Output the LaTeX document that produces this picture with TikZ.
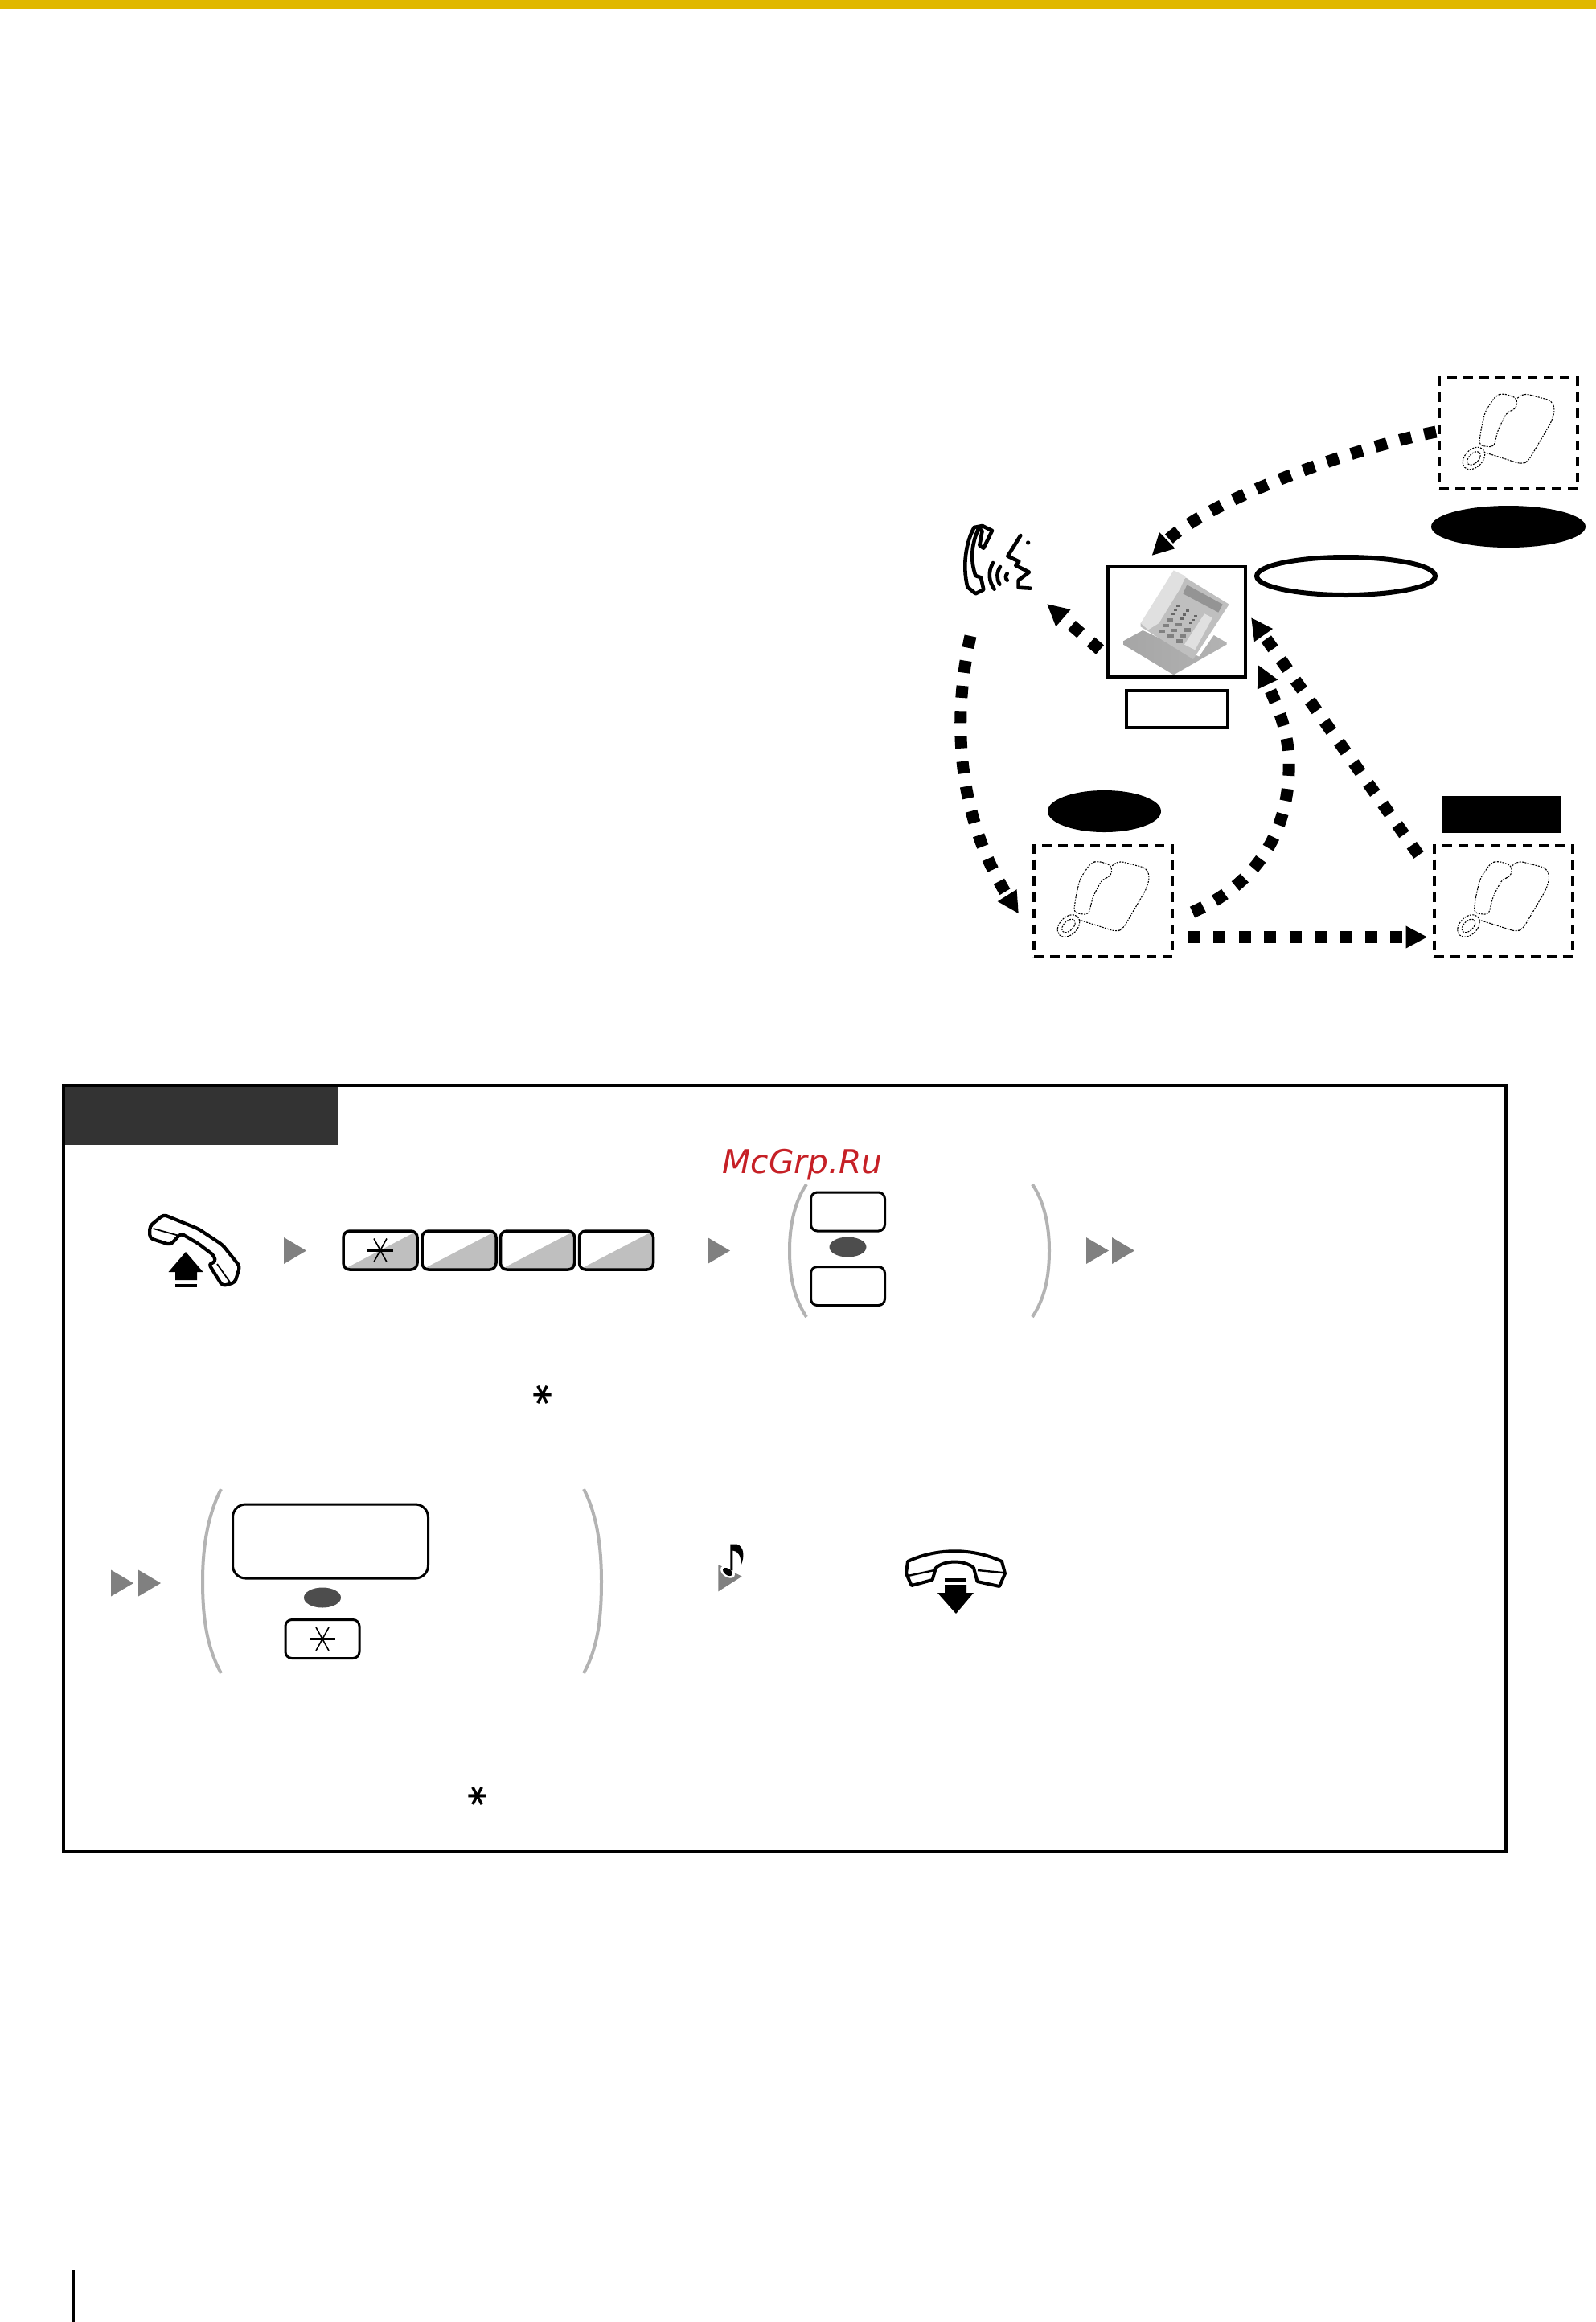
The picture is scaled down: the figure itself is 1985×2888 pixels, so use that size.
\documentclass[tikz,border=0pt]{standalone}
\usepackage{xcolor}
\usepackage{fontspec}
\usetikzlibrary{shapes.geometric,arrows.meta}
\newfontfamily\labelfont{DejaVu Sans}
\definecolor{barcolor}{HTML}{E0B800}
\definecolor{headcolor}{HTML}{333333}
\definecolor{markgrey}{HTML}{808080}
\definecolor{keygrey}{HTML}{BFBFBF}
\definecolor{dotgrey}{HTML}{4D4D4D}
\definecolor{parengrey}{HTML}{B3B3B3}
\definecolor{watermark}{HTML}{C62026}
\tikzset{
    dotarrow/.style={line width=7.5pt,dash pattern=on 7.5pt off 8.2pt,-{Triangle[length=13.5pt,width=13pt]}},
    phonebox/.style={draw,line width=2pt,dash pattern=on 6pt off 4pt,minimum width=86pt,minimum height=69pt,inner sep=0pt,outer sep=0pt},
    framebox/.style={draw,line width=2pt,inner sep=0pt,outer sep=0pt},
    blackoval/.style={ellipse,fill=black,inner sep=0pt,outer sep=0pt},
    digitkey/.style={draw,line width=1.75pt,rounded corners=4pt,minimum width=46pt,minimum height=24pt,inner sep=0pt,
        path picture={\fill[keygrey] (path picture bounding box.south west) -- (path picture bounding box.north east) -- (path picture bounding box.south east) -- cycle;}},
    plainkey/.style={draw,line width=1.5pt,rounded corners=4pt,minimum width=46pt,minimum height=24pt,inner sep=0pt},
    sepdot/.style={ellipse,fill=dotgrey,minimum width=23pt,minimum height=12.5pt,inner sep=0pt},
    paren/.style={parengrey,line width=2pt},
    startext/.style={font=\labelfont\bfseries\fontsize{24}{28}\selectfont,rotate=90,inner sep=0pt},
    playmark/.pic={\fill[markgrey] (-14,-16.5) -- (14,0) -- (-14,16.5) -- cycle;},
    keystar/.pic={
        \draw[line width=1.9pt] (-16,0) -- (16,0);
        \draw[line width=.8pt] (-8,-14.5) -- (8,14.5);
        \draw[line width=.8pt] (8,-14.5) -- (-8,14.5);
    },
    dotphone/.pic={
        \draw[line width=.55pt,dash pattern=on 1pt off .7pt,rounded corners=3pt]
            (-6.4,-49.8) -- (11.2,-43.8) -- (9.6,-29.9) -- (-1,-27.4) -- (-12.8,-5) -- (-18.1,17.4)
            -- (-36.7,14.9) -- (-34,-5) -- (-28.8,-27.4) -- (-15.4,-47.3) -- cycle;
        \draw[line width=.55pt,dash pattern=on 1pt off .7pt,rounded corners=3pt]
            (11.2,-43.8) -- (19.2,-49.8) -- (53.8,-40.8) -- (58,-29.9) -- (53.8,-14.9) -- (24.5,34.8)
            -- (16.5,38.3) -- (-28.8,23.9);
        \draw[line width=.55pt,dash pattern=on 1pt off .7pt,shift={(-43,31)},rotate=45] (0,0) ellipse (16 and 11);
        \draw[line width=.55pt,dash pattern=on 1pt off .7pt,shift={(-43,31)},rotate=45] (0,0) ellipse (10 and 6);
    },
}
\begin{document}
\begin{tikzpicture}[x=0.5pt,y=-0.5pt]
    \useasboundingbox (0,0) rectangle (1985,2888);
    \fill[barcolor] (0,0) rectangle (1985,11);
    \fill (89,2823) rectangle (93.3,2888);

    % upper diagram
    \node[phonebox] (phoneTR) at (1876,539) {};
    \node[phonebox] (phoneBL) at (1372,1120.5) {};
    \node[phonebox] (phoneBR) at (1869.5,1120.5) {};
    \pic at (phoneTR) {dotphone};
    \pic at (phoneBL) {dotphone};
    \pic at (phoneBR) {dotphone};
    \node[framebox,minimum width=85.5pt,minimum height=68.5pt] (deskset) at (1463.5,773.5) {};
    \node[framebox,minimum width=63pt,minimum height=23pt] (namebox) at (1464,882) {};
    \node[ellipse,draw,line width=3pt,inner sep=0pt,minimum width=111pt,minimum height=23.5pt] (ovalA) at (1674,716.5) {};
    \node[blackoval,minimum width=96pt,minimum height=26pt] (ovalB) at (1876,655) {};
    \node[blackoval,minimum width=70.5pt,minimum height=26pt] (ovalC) at (1373.5,1009) {};
    \node[fill=black,inner sep=0pt,minimum width=74pt,minimum height=23pt] (tagBR) at (1868,1013) {};
    \node[inner sep=0pt,outer sep=0pt,minimum width=41.5pt,minimum height=42.5pt] (voice) at (1240.5,695.5) {};

    % desk phone
    \begin{scope}[shift={(1378,700)},scale=0.3333]
        \shade[left color=black!35,middle color=white,right color=black!30] (57,292) -- (130,252) -- (340,350) -- (395,270) -- (443,298) -- (443,305) -- (245,418) -- (57,305) -- cycle;
        \fill[black!25] (122,225) -- (290,55) -- (452,155) -- (318,360) -- (122,238) -- cycle;
        \fill[black!12] (122,225) -- (245,28) -- (290,50) -- (270,95) -- (190,225) -- (150,250) -- cycle;
        \fill[black!42] (295,82) -- (428,155) -- (412,185) -- (280,115) -- cycle;
        \fill[black!12] (360,190) -- (390,205) -- (325,325) -- (285,305) -- cycle;
        \foreach \kx/\ky in {262/160,252/175,242/190,296/178,285/193,275/208,326/198,318/212,308/225}
            \fill[black!60] (\kx-6,\ky-3.5) rectangle (\kx+6,\ky+3.5);
        \foreach \kx/\ky in {232/212,216/233,202/255,263/231,247/252,235/274,296/250,280/271,266/292}
            \fill[black!50] (\kx-12,\ky-6.5) rectangle (\kx+12,\ky+6.5);
    \end{scope}

    % talking handset
    \begin{scope}[shift={(1180,640)},scale=0.3333,line width=2.3pt,line join=round,line cap=round]
        \draw (95,48) .. controls (65,100) and (50,190) .. (70,270) -- (100,295) -- (130,280) -- (120,235) -- (100,228) .. controls (80,170) and (85,110) .. (110,55) -- (125,42) -- (162,60) -- (130,125) -- (115,115) -- (125,60) -- (110,55);
        \draw (95,48) -- (125,42);
        \draw (165,180) .. controls (145,215) and (150,250) .. (170,278);
        \draw (192,195) .. controls (178,215) and (178,240) .. (190,260);
        \draw (218,220) .. controls (211,228) and (211,238) .. (218,245);
        \draw (268,78) -- (220,155) -- (262,175) -- (250,190) -- (300,215) -- (260,245) -- (260,272) -- (305,275);
        \fill (296,105) circle (8);
    \end{scope}

    \draw[dotarrow] ([shift={(-4,-2)}]phoneTR.west) .. controls (1670,560) and (1500,625) .. ([shift={(-31,-14)}]deskset.north);
    \draw[dotarrow] ([shift={(-10,0)}]deskset.202) -- ([shift={(20,13)}]voice.south east);
    \draw[dotarrow] ([shift={(8,53)}]voice.south west) .. controls (1183,900) and (1192,1017) .. ([shift={(-19,16)}]phoneBL.west);
    \draw[dotarrow] ([shift={(25,14)}]phoneBL.east) .. controls (1550,1105) and (1600,1050) .. (1603,960) .. controls (1605,915) and (1590,880) .. ([shift={(16,-15)}]deskset.south east);
    \draw[dotarrow] ([shift={(-19,12)}]phoneBR.north west) -- ([shift={(7,63)}]deskset.north east);
    \draw[dotarrow] ([shift={(20,45)}]phoneBL.east) -- ([shift={(-8,45)}]phoneBR.west);

    % procedure frame
    \draw[line width=2pt] (79,1350) rectangle (1873,2303);
    \node[fill=headcolor,inner sep=0pt,minimum width=169.5pt,minimum height=36pt] (header) at (250.5,1388) {};
    \node[text=watermark,font=\labelfont\itshape\fontsize{20.4}{24}\selectfont] (mark) at (998,1449) {McGrp.Ru};

    % off-hook
    \draw[line width=2.1pt,line join=round,rounded corners=2pt] (203.5,1510.7) -- (186.3,1525) -- (186.3,1540) -- (212,1548.3) -- (225,1534) -- (246.6,1546.7) -- (266.4,1561.7) -- (268,1570) -- (259.5,1571.7) -- (276.7,1599.3) -- (292.2,1595) -- (298.3,1575) -- (276.7,1548.3) -- (246.6,1528.3) -- cycle;
    \draw[line width=.9pt] (190.6,1528) -- (223,1537);
    \draw[line width=.9pt] (270,1572) -- (287,1596);
    \fill (231,1557) -- (252.6,1582) -- (245,1582) -- (245,1592) -- (218,1592) -- (218,1582) -- (209.5,1582) -- cycle;
    \fill (218,1597) rectangle (245,1601);

    \pic at (367,1555.5) {playmark};
    \node[digitkey] (keyA) at (473,1555) {};
    \node[digitkey] (keyB) at (571,1555) {};
    \node[digitkey] (keyC) at (668.5,1555) {};
    \node[digitkey] (keyD) at (766.5,1555) {};
    \pic at (keyA) {keystar};
    \pic at (894,1555.5) {playmark};

    \draw[paren] (1003,1473) .. controls (988,1495) and (982,1525) .. (982,1555) .. controls (982,1590) and (988,1615) .. (1003,1638);
    \draw[paren] (1284,1473) .. controls (1299,1495) and (1305,1525) .. (1305,1555) .. controls (1305,1590) and (1299,1615) .. (1284,1638);
    \node[plainkey] (keyE) at (1054.5,1507) {};
    \node[sepdot] (dotA) at (1054.5,1551) {};
    \node[plainkey] (keyF) at (1054.5,1599.5) {};
    \pic at (1365,1555.5) {playmark};
    \pic at (1397,1555.5) {playmark};
    \node[startext] (starA) at (682,1735) {*};

    % second row
    \pic at (152,1969) {playmark};
    \pic at (186,1969) {playmark};
    \draw[paren] (275,1852) .. controls (258,1885) and (252,1925) .. (252,1967) .. controls (252,2015) and (258,2050) .. (275,2081);
    \draw[paren] (726,1852) .. controls (743,1885) and (748,1925) .. (748,1967) .. controls (748,2015) and (743,2050) .. (726,2081);
    \node[plainkey,rounded corners=8pt,minimum width=121.5pt,minimum height=46pt] (keyG) at (411,1917) {};
    \node[sepdot] (dotB) at (401,1987) {};
    \node[plainkey] (keyH) at (401,2038.5) {};
    \pic at (keyH) {keystar};
    \node[startext] (starB) at (601,2233.5) {*};

    % tone note
    \begin{scope}[shift={(880,1910)},scale=0.3333]
        \fill[markgrey] (40,108) -- (128,152) -- (40,208) -- cycle;
        \fill[white,rotate around={-35:(75,135)}] (75,135) ellipse (30 and 19);
        \fill[black,rotate around={-35:(75,135)}] (75,135) ellipse (20 and 12);
        \fill (85,32) -- (110,32) .. controls (135,40) and (140,75) .. (125,110) .. controls (125,75) and (115,58) .. (94,55) -- (94,130) -- (85,130) -- cycle;
    \end{scope}

    % on-hook
    \draw[line width=2pt,line join=round] (1129,1942) .. controls (1165,1925) and (1210,1925) .. (1246,1942) -- (1250,1957) -- (1243,1973) -- (1215.5,1967) -- (1211,1950) .. controls (1200,1940) and (1175,1940) .. (1164,1950) -- (1159.6,1965) -- (1133.7,1972) -- (1127,1957) -- cycle;
    \draw[line width=1.2pt] (1129,1960) -- (1162,1953);
    \draw[line width=1.2pt] (1216,1953) -- (1247,1956);
    \fill (1175,1963) rectangle (1202,1967);
    \fill (1175,1971) -- (1202,1971) -- (1202,1981) -- (1211,1981) -- (1189,2007) -- (1166,1981) -- (1175,1981) -- cycle;
\end{tikzpicture}
\end{document}
